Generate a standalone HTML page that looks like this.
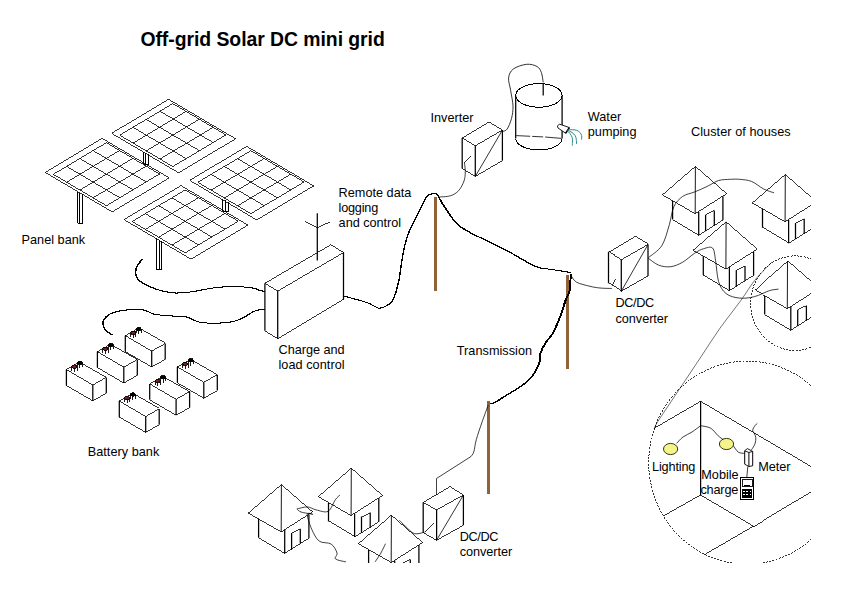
<!DOCTYPE html>
<html lang="en">
<head>
<meta charset="utf-8">
<title>Off-grid Solar DC mini grid</title>
<style>
html,body{margin:0;padding:0;background:#fff;}
body{width:841px;height:595px;overflow:hidden;position:relative;}
#diagram{position:absolute;left:0;top:0;width:811px;height:563px;overflow:hidden;display:block;}
#diagram text{font-family:"Liberation Sans",sans-serif;fill:#000;}
</style>
</head>
<body>
<svg id="diagram" width="811" height="563" viewBox="0 0 811 563" shape-rendering="crispEdges" stroke-linecap="butt" stroke-linejoin="miter">
<path d="M143.5,151.5 L143.5,164.1 M145.5,152.8 L145.5,164.9 M148.5,154.0 L148.5,164.1" stroke="#000" stroke-width="1" fill="none"/>
<path d="M143.5,164.4 L148.5,164.4" stroke="#000" stroke-width="1" fill="none"/>
<path d="M77.5,191.5 L77.5,222.8 M79.5,192.8 L79.5,223.6 M82.5,194.2 L82.5,222.8" stroke="#000" stroke-width="1" fill="none"/>
<path d="M77.5,223.1 L82.5,223.1" stroke="#000" stroke-width="1" fill="none"/>
<path d="M222.5,199.0 L222.5,211.3 M225.5,200.3 L225.5,212.1 M228.5,201.7 L228.5,211.3" stroke="#000" stroke-width="1" fill="none"/>
<path d="M222.5,211.6 L228.5,211.6" stroke="#000" stroke-width="1" fill="none"/>
<path d="M156.5,238.3 L156.5,269.5 M159.5,239.6 L159.5,270.3 M161.5,240.9 L161.5,269.5" stroke="#000" stroke-width="1" fill="none"/>
<path d="M156.5,269.8 L161.5,269.8" stroke="#000" stroke-width="1" fill="none"/>
<path d="M168.6,99.3 L235.6,138.8 M235.6,138.8 L178.6,172.8 M178.6,172.8 L111.6,133.3 M111.6,133.3 L168.6,99.3" stroke="#000" stroke-width="0.8" fill="none"/>
<path d="M172.8,103.6 L225.9,134.9 M225.9,134.9 L172.8,166.6 M172.8,166.6 L119.7,135.2 M119.7,135.2 L172.8,103.6" stroke="#000" stroke-width="0.8" fill="none"/>
<path d="M186.0,111.4 L133.0,143.1" stroke="#000" stroke-width="0.8" fill="none"/>
<path d="M159.5,111.5 L212.6,142.8" stroke="#000" stroke-width="0.8" fill="none"/>
<path d="M199.3,119.2 L146.3,150.9" stroke="#000" stroke-width="0.8" fill="none"/>
<path d="M146.2,119.4 L199.4,150.7" stroke="#000" stroke-width="0.8" fill="none"/>
<path d="M212.6,127.1 L159.5,158.7" stroke="#000" stroke-width="0.8" fill="none"/>
<path d="M133.0,127.3 L186.1,158.6" stroke="#000" stroke-width="0.8" fill="none"/>
<path d="M102.2,138.4 L169.2,177.9 M169.2,177.9 L112.2,211.9 M112.2,211.9 L45.2,172.4 M45.2,172.4 L102.2,138.4" stroke="#000" stroke-width="0.8" fill="none"/>
<path d="M106.4,142.7 L159.5,174.0 M159.5,174.0 L106.4,205.7 M106.4,205.7 L53.3,174.3 M53.3,174.3 L106.4,142.7" stroke="#000" stroke-width="0.8" fill="none"/>
<path d="M119.6,150.5 L66.6,182.2" stroke="#000" stroke-width="0.8" fill="none"/>
<path d="M93.1,150.6 L146.2,181.9" stroke="#000" stroke-width="0.8" fill="none"/>
<path d="M132.9,158.3 L79.9,190.0" stroke="#000" stroke-width="0.8" fill="none"/>
<path d="M79.8,158.5 L133.0,189.8" stroke="#000" stroke-width="0.8" fill="none"/>
<path d="M146.2,166.2 L93.1,197.8" stroke="#000" stroke-width="0.8" fill="none"/>
<path d="M66.6,166.4 L119.7,197.7" stroke="#000" stroke-width="0.8" fill="none"/>
<path d="M246.7,146.4 L313.7,185.9 M313.7,185.9 L256.7,219.9 M256.7,219.9 L189.7,180.4 M189.7,180.4 L246.7,146.4" stroke="#000" stroke-width="0.8" fill="none"/>
<path d="M250.9,150.7 L304.0,182.0 M304.0,182.0 L250.9,213.7 M250.9,213.7 L197.8,182.3 M197.8,182.3 L250.9,150.7" stroke="#000" stroke-width="0.8" fill="none"/>
<path d="M264.1,158.5 L211.1,190.2" stroke="#000" stroke-width="0.8" fill="none"/>
<path d="M237.6,158.6 L290.7,189.9" stroke="#000" stroke-width="0.8" fill="none"/>
<path d="M277.4,166.3 L224.4,198.0" stroke="#000" stroke-width="0.8" fill="none"/>
<path d="M224.3,166.5 L277.5,197.8" stroke="#000" stroke-width="0.8" fill="none"/>
<path d="M290.7,174.2 L237.6,205.8" stroke="#000" stroke-width="0.8" fill="none"/>
<path d="M211.1,174.4 L264.2,205.7" stroke="#000" stroke-width="0.8" fill="none"/>
<path d="M181.0,185.6 L248.0,225.1 M248.0,225.1 L191.0,259.1 M191.0,259.1 L124.0,219.6 M124.0,219.6 L181.0,185.6" stroke="#000" stroke-width="0.8" fill="none"/>
<path d="M185.2,189.9 L238.3,221.2 M238.3,221.2 L185.2,252.9 M185.2,252.9 L132.1,221.5 M132.1,221.5 L185.2,189.9" stroke="#000" stroke-width="0.8" fill="none"/>
<path d="M198.4,197.7 L145.4,229.4" stroke="#000" stroke-width="0.8" fill="none"/>
<path d="M171.9,197.8 L225.0,229.1" stroke="#000" stroke-width="0.8" fill="none"/>
<path d="M211.7,205.5 L158.7,237.2" stroke="#000" stroke-width="0.8" fill="none"/>
<path d="M158.6,205.7 L211.8,237.0" stroke="#000" stroke-width="0.8" fill="none"/>
<path d="M225.0,213.4 L171.9,245.0" stroke="#000" stroke-width="0.8" fill="none"/>
<path d="M145.4,213.6 L198.5,244.9" stroke="#000" stroke-width="0.8" fill="none"/>
<path d="M435.5,197.0 L435.5,290.6" stroke="#8f6238" stroke-width="3" fill="none" />
<path d="M567.6,275.0 L567.6,368.8" stroke="#8f6238" stroke-width="3" fill="none" />
<path d="M488.5,401.0 L488.5,493.6" stroke="#8f6238" stroke-width="3" fill="none" />
<path d="M142.2,258.9 C141.3,260.1 137.9,263.7 136.8,266.2 C135.6,268.7 135.0,271.4 135.3,273.8 C135.6,276.2 136.5,278.3 138.7,280.4 C140.8,282.4 144.4,284.4 148.2,286.1 C152.0,287.9 157.2,289.8 161.6,290.9 C166.0,292.0 170.5,292.8 174.9,293.0 C179.3,293.2 183.8,292.7 188.2,292.2 C192.6,291.7 197.1,290.8 201.5,290.0 C205.9,289.2 210.0,288.2 214.8,287.7 C219.6,287.1 225.0,286.8 230.1,286.7 C235.2,286.6 241.2,286.8 245.3,287.1 C249.4,287.4 252.4,288.0 254.8,288.6 C257.2,289.2 257.9,290.1 259.5,290.5 C261.1,290.9 263.5,291.2 264.3,291.3" stroke="#000" stroke-width="1.0" fill="none" />
<path d="M142.8,258.9 C141.9,260.1 138.6,263.7 137.4,266.2 C136.2,268.7 135.6,271.4 135.9,273.8 C136.2,276.2 137.2,278.3 139.3,280.4 C141.5,282.4 145.0,284.4 148.8,286.1 C152.6,287.9 157.8,289.8 162.2,290.9 C166.7,292.0 171.1,292.8 175.5,293.0 C179.9,293.2 184.4,292.7 188.8,292.2 C193.2,291.7 197.7,290.8 202.1,290.0 C206.5,289.2 210.6,288.2 215.4,287.7 C220.2,287.1 225.6,286.8 230.7,286.7 C235.8,286.6 241.8,286.8 245.9,287.1 C250.0,287.4 253.0,288.0 255.4,288.6 C257.8,289.2 258.5,290.1 260.1,290.5 C261.7,290.9 264.1,291.2 264.9,291.3" stroke="#000" stroke-width="1.0" fill="none" />
<path d="M264.3,309.4 C263.0,309.5 258.9,309.7 256.7,310.3 C254.5,310.9 253.2,311.6 251.0,312.8 C248.8,314.0 246.2,316.1 243.4,317.5 C240.5,318.9 237.4,320.4 233.9,321.3 C230.4,322.2 226.2,322.6 222.4,322.9 C218.6,323.2 214.8,323.3 211.0,323.2 C207.2,323.1 202.8,322.9 199.6,322.3 C196.4,321.7 194.2,320.3 192.0,319.4 C189.8,318.5 189.1,317.5 186.3,317.0 C183.4,316.5 178.7,316.5 174.9,316.2 C171.1,315.9 167.0,315.6 163.5,315.3 C160.0,315.0 156.4,314.9 153.9,314.3 C151.3,313.7 150.1,312.5 148.2,311.8 C146.3,311.1 145.3,310.3 142.5,309.9 C139.7,309.5 134.9,309.4 131.1,309.6 C127.3,309.8 123.3,310.2 119.7,310.9 C116.1,311.6 112.4,312.6 109.7,314.0 C107.0,315.4 104.8,317.7 103.7,319.5 C102.6,321.3 102.7,323.2 102.9,325.0 C103.2,326.8 103.7,328.3 105.2,330.0 C106.7,331.7 110.7,334.2 111.8,335.0" stroke="#000" stroke-width="1.0" fill="none" />
<path d="M264.9,309.4 C263.6,309.5 259.5,309.7 257.3,310.3 C255.1,310.9 253.8,311.6 251.6,312.8 C249.4,314.0 246.8,316.1 244.0,317.5 C241.2,318.9 238.0,320.4 234.5,321.3 C231.0,322.2 226.8,322.6 223.0,322.9 C219.2,323.2 215.4,323.3 211.6,323.2 C207.8,323.1 203.4,322.9 200.2,322.3 C197.0,321.7 194.8,320.3 192.6,319.4 C190.4,318.5 189.8,317.5 186.9,317.0 C184.1,316.5 179.3,316.5 175.5,316.2 C171.7,315.9 167.6,315.6 164.1,315.3 C160.6,315.0 157.1,314.9 154.5,314.3 C151.9,313.7 150.7,312.5 148.8,311.8 C146.9,311.1 146.0,310.3 143.1,309.9 C140.3,309.5 135.5,309.4 131.7,309.6 C127.9,309.8 123.9,310.2 120.3,310.9 C116.7,311.6 113.0,312.6 110.3,314.0 C107.6,315.4 105.4,317.7 104.3,319.5 C103.2,321.3 103.2,323.2 103.5,325.0 C103.8,326.8 104.3,328.3 105.8,330.0 C107.3,331.7 111.3,334.2 112.4,335.0" stroke="#000" stroke-width="1.0" fill="none" />
<path d="M343.3,295.9 C347.1,297.0 360.9,300.6 366.1,302.4 C371.4,304.2 372.5,305.5 374.8,306.5 C377.1,307.5 377.4,308.6 379.8,308.2 C382.2,307.8 386.9,305.8 389.3,303.9 C391.7,302.0 392.5,300.8 394.1,296.8 C395.7,292.8 397.6,285.7 398.8,280.1 C400.0,274.6 400.2,269.4 401.2,263.5 C402.2,257.6 403.4,250.1 404.8,244.5 C406.2,238.9 407.3,235.4 409.5,230.2 C411.7,225.0 414.8,219.2 417.8,213.5 C420.8,207.8 424.2,198.9 427.4,195.7 C430.6,192.4 435.3,194.3 436.9,194.0" stroke="#000" stroke-width="1.0" fill="none" />
<path d="M343.7,295.9 C347.5,297.0 361.2,300.6 366.5,302.4 C371.8,304.2 372.9,305.5 375.2,306.5 C377.5,307.5 377.8,308.6 380.2,308.2 C382.6,307.8 387.3,305.8 389.7,303.9 C392.1,302.0 392.9,300.8 394.5,296.8 C396.1,292.8 398.0,285.7 399.2,280.1 C400.4,274.6 400.6,269.4 401.6,263.5 C402.6,257.6 403.8,250.1 405.2,244.5 C406.6,238.9 407.7,235.4 409.9,230.2 C412.1,225.0 415.2,219.2 418.2,213.5 C421.2,207.8 424.6,198.9 427.8,195.7 C431.0,192.4 435.7,194.3 437.3,194.0" stroke="#000" stroke-width="1.0" fill="none" />
<path d="M436.8,194.0 C437.9,196.1 440.7,201.6 443.8,206.4 C447.0,211.2 451.8,218.8 455.8,223.0 C459.7,227.2 462.5,228.4 467.6,231.4 C472.8,234.4 479.5,237.3 486.6,240.9 C493.8,244.5 503.7,249.2 510.4,252.8 C517.2,256.4 522.3,259.8 527.0,262.3 C531.8,264.8 535.0,266.6 538.9,267.8 C542.9,269.0 545.7,268.6 550.9,269.4 C556.0,270.2 566.7,272.0 569.9,272.5" stroke="#000" stroke-width="1.0" fill="none" />
<path d="M437.5,194.0 C438.6,196.1 441.4,201.6 444.6,206.4 C447.7,211.2 452.5,218.8 456.5,223.0 C460.4,227.2 463.2,228.4 468.4,231.4 C473.5,234.4 480.2,237.3 487.4,240.9 C494.5,244.5 504.4,249.2 511.2,252.8 C517.9,256.4 523.0,259.8 527.8,262.3 C532.5,264.8 535.7,266.6 539.6,267.8 C543.6,269.0 546.4,268.6 551.6,269.4 C556.7,270.2 567.4,272.0 570.6,272.5" stroke="#000" stroke-width="1.0" fill="none" />
<path d="M570.2,273.5 C570.2,274.9 570.1,279.2 569.9,282.0 C569.8,284.8 570.2,287.1 569.4,290.2 C568.6,293.2 566.7,296.1 565.1,300.3 C563.6,304.5 562.2,309.9 560.1,315.4 C558.0,320.8 555.1,328.4 552.5,333.0 C550.0,337.6 547.1,339.7 545.0,343.1 C543.0,346.5 541.1,349.9 540.0,353.2 C539.0,356.5 539.8,359.8 538.8,363.2 C537.7,366.6 535.6,370.4 533.8,373.3 C531.9,376.2 530.2,378.4 527.4,380.9 C524.7,383.4 521.1,385.9 517.3,388.4 C513.6,390.9 508.5,393.7 504.8,396.0 C501.0,398.3 497.2,401.0 494.7,402.3 C492.1,403.6 490.5,403.6 489.7,403.8" stroke="#000" stroke-width="1.0" fill="none" />
<path d="M571.2,273.5 C571.1,274.9 571.0,279.2 570.9,282.0 C570.7,284.8 571.1,287.1 570.4,290.2 C569.6,293.2 567.6,296.1 566.1,300.3 C564.5,304.5 563.2,309.9 561.1,315.4 C559.0,320.8 556.0,328.4 553.5,333.0 C550.9,337.6 548.0,339.7 546.0,343.1 C543.9,346.5 542.0,349.9 541.0,353.2 C539.9,356.5 540.7,359.8 539.7,363.2 C538.6,366.6 536.5,370.4 534.7,373.3 C532.8,376.2 531.1,378.4 528.4,380.9 C525.6,383.4 522.0,385.9 518.2,388.4 C514.5,390.9 509.4,393.7 505.6,396.0 C501.9,398.3 498.1,401.0 495.6,402.3 C493.0,403.6 491.4,403.6 490.6,403.8" stroke="#000" stroke-width="1.0" fill="none" />
<path d="M264.9,283.3 L330.9,244.7 M330.9,244.7 L343.5,252.6 M343.5,252.6 L277.7,291.1 M277.7,291.1 L264.9,283.3" stroke="#000" stroke-width="0.8" fill="none"/>
<path d="M343.5,299.4 L277.7,338.7" stroke="#000" stroke-width="0.8" fill="none"/>
<path d="M343.5,252.6 L343.5,299.4 M277.7,338.7 L277.7,291.1" stroke="#000" stroke-width="1.25" fill="none" shape-rendering="geometricPrecision"/>
<path d="M264.9,330.8 L277.7,338.7" stroke="#000" stroke-width="0.8" fill="none"/>
<path d="M264.9,283.3 L264.9,330.8" stroke="#000" stroke-width="1.25" fill="none" shape-rendering="geometricPrecision"/>
<path d="M317.3,213.3 L317.3,260.5" stroke="#000" stroke-width="1.25" fill="none" shape-rendering="geometricPrecision"/>
<path d="M304.7,221.1 L317.3,227.7 M317.3,227.7 L330.4,221.7" stroke="#000" stroke-width="0.8" fill="none"/>
<path d="M125.3,335.7 L138.5,328.2 M138.5,328.2 L165.2,343.5 M165.2,343.5 L151.7,351.1 M151.7,351.1 L125.3,335.7" stroke="#000" stroke-width="0.8" fill="none"/>
<path d="M125.3,351.6 L151.7,367.0 M151.7,367.0 L165.2,359.4" stroke="#000" stroke-width="0.8" fill="none"/>
<path d="M125.3,335.7 L125.3,351.6 M165.2,359.4 L165.2,343.5" stroke="#000" stroke-width="1.25" fill="none" shape-rendering="geometricPrecision"/>
<path d="M151.7,351.1 L151.7,367.0" stroke="#000" stroke-width="1.25" fill="none" shape-rendering="geometricPrecision"/>
<ellipse cx="133.3" cy="332.7" rx="2.6" ry="1.7" fill="#7a1a22" stroke="#000" stroke-width="0.9"/>
<path d="M130.7,332.7 v4 M135.9,332.7 v4 M133.3,333.9 v4" stroke="#000" stroke-width="0.9" fill="none"/>
<ellipse cx="138.7" cy="329.1" rx="2.6" ry="1.7" fill="#000" stroke="#000" stroke-width="0.9"/>
<path d="M136.1,329.1 v4 M141.3,329.1 v4 M138.7,330.3 v4" stroke="#000" stroke-width="0.9" fill="none"/>
<path d="M97.4,351.7 L110.6,344.2 M110.6,344.2 L137.3,359.5 M137.3,359.5 L123.8,367.1 M123.8,367.1 L97.4,351.7" stroke="#000" stroke-width="0.8" fill="none"/>
<path d="M97.4,367.6 L123.8,383.0 M123.8,383.0 L137.3,375.4" stroke="#000" stroke-width="0.8" fill="none"/>
<path d="M97.4,351.7 L97.4,367.6 M137.3,375.4 L137.3,359.5" stroke="#000" stroke-width="1.25" fill="none" shape-rendering="geometricPrecision"/>
<path d="M123.8,367.1 L123.8,383.0" stroke="#000" stroke-width="1.25" fill="none" shape-rendering="geometricPrecision"/>
<ellipse cx="105.4" cy="348.7" rx="2.6" ry="1.7" fill="#7a1a22" stroke="#000" stroke-width="0.9"/>
<path d="M102.8,348.7 v4 M108.0,348.7 v4 M105.4,349.9 v4" stroke="#000" stroke-width="0.9" fill="none"/>
<ellipse cx="110.8" cy="345.1" rx="2.6" ry="1.7" fill="#000" stroke="#000" stroke-width="0.9"/>
<path d="M108.2,345.1 v4 M113.4,345.1 v4 M110.8,346.3 v4" stroke="#000" stroke-width="0.9" fill="none"/>
<path d="M66.4,369.6 L79.6,362.1 M79.6,362.1 L106.3,377.4 M106.3,377.4 L92.8,385.0 M92.8,385.0 L66.4,369.6" stroke="#000" stroke-width="0.8" fill="none"/>
<path d="M66.4,385.5 L92.8,400.9 M92.8,400.9 L106.3,393.3" stroke="#000" stroke-width="0.8" fill="none"/>
<path d="M66.4,369.6 L66.4,385.5 M106.3,393.3 L106.3,377.4" stroke="#000" stroke-width="1.25" fill="none" shape-rendering="geometricPrecision"/>
<path d="M92.8,385.0 L92.8,400.9" stroke="#000" stroke-width="1.25" fill="none" shape-rendering="geometricPrecision"/>
<ellipse cx="74.4" cy="366.6" rx="2.6" ry="1.7" fill="#7a1a22" stroke="#000" stroke-width="0.9"/>
<path d="M71.8,366.6 v4 M77.0,366.6 v4 M74.4,367.8 v4" stroke="#000" stroke-width="0.9" fill="none"/>
<ellipse cx="79.8" cy="363.0" rx="2.6" ry="1.7" fill="#000" stroke="#000" stroke-width="0.9"/>
<path d="M77.2,363.0 v4 M82.4,363.0 v4 M79.8,364.2 v4" stroke="#000" stroke-width="0.9" fill="none"/>
<path d="M177.4,366.9 L190.6,359.4 M190.6,359.4 L217.3,374.7 M217.3,374.7 L203.8,382.3 M203.8,382.3 L177.4,366.9" stroke="#000" stroke-width="0.8" fill="none"/>
<path d="M177.4,382.8 L203.8,398.2 M203.8,398.2 L217.3,390.6" stroke="#000" stroke-width="0.8" fill="none"/>
<path d="M177.4,366.9 L177.4,382.8 M217.3,390.6 L217.3,374.7" stroke="#000" stroke-width="1.25" fill="none" shape-rendering="geometricPrecision"/>
<path d="M203.8,382.3 L203.8,398.2" stroke="#000" stroke-width="1.25" fill="none" shape-rendering="geometricPrecision"/>
<ellipse cx="185.4" cy="363.9" rx="2.6" ry="1.7" fill="#7a1a22" stroke="#000" stroke-width="0.9"/>
<path d="M182.8,363.9 v4 M188.0,363.9 v4 M185.4,365.1 v4" stroke="#000" stroke-width="0.9" fill="none"/>
<ellipse cx="190.8" cy="360.3" rx="2.6" ry="1.7" fill="#000" stroke="#000" stroke-width="0.9"/>
<path d="M188.2,360.3 v4 M193.4,360.3 v4 M190.8,361.5 v4" stroke="#000" stroke-width="0.9" fill="none"/>
<path d="M149.7,383.9 L162.9,376.4 M162.9,376.4 L189.6,391.7 M189.6,391.7 L176.1,399.3 M176.1,399.3 L149.7,383.9" stroke="#000" stroke-width="0.8" fill="none"/>
<path d="M149.7,399.8 L176.1,415.2 M176.1,415.2 L189.6,407.6" stroke="#000" stroke-width="0.8" fill="none"/>
<path d="M149.7,383.9 L149.7,399.8 M189.6,407.6 L189.6,391.7" stroke="#000" stroke-width="1.25" fill="none" shape-rendering="geometricPrecision"/>
<path d="M176.1,399.3 L176.1,415.2" stroke="#000" stroke-width="1.25" fill="none" shape-rendering="geometricPrecision"/>
<ellipse cx="157.7" cy="380.9" rx="2.6" ry="1.7" fill="#7a1a22" stroke="#000" stroke-width="0.9"/>
<path d="M155.1,380.9 v4 M160.3,380.9 v4 M157.7,382.1 v4" stroke="#000" stroke-width="0.9" fill="none"/>
<ellipse cx="163.1" cy="377.3" rx="2.6" ry="1.7" fill="#000" stroke="#000" stroke-width="0.9"/>
<path d="M160.5,377.3 v4 M165.7,377.3 v4 M163.1,378.5 v4" stroke="#000" stroke-width="0.9" fill="none"/>
<path d="M119.3,401.1 L132.5,393.6 M132.5,393.6 L159.2,408.9 M159.2,408.9 L145.7,416.5 M145.7,416.5 L119.3,401.1" stroke="#000" stroke-width="0.8" fill="none"/>
<path d="M119.3,417.0 L145.7,432.4 M145.7,432.4 L159.2,424.8" stroke="#000" stroke-width="0.8" fill="none"/>
<path d="M119.3,401.1 L119.3,417.0 M159.2,424.8 L159.2,408.9" stroke="#000" stroke-width="1.25" fill="none" shape-rendering="geometricPrecision"/>
<path d="M145.7,416.5 L145.7,432.4" stroke="#000" stroke-width="1.25" fill="none" shape-rendering="geometricPrecision"/>
<ellipse cx="127.3" cy="398.1" rx="2.6" ry="1.7" fill="#7a1a22" stroke="#000" stroke-width="0.9"/>
<path d="M124.7,398.1 v4 M129.9,398.1 v4 M127.3,399.3 v4" stroke="#000" stroke-width="0.9" fill="none"/>
<ellipse cx="132.7" cy="394.5" rx="2.6" ry="1.7" fill="#000" stroke="#000" stroke-width="0.9"/>
<path d="M130.1,394.5 v4 M135.3,394.5 v4 M132.7,395.7 v4" stroke="#000" stroke-width="0.9" fill="none"/>
<path d="M462.2,138.0 L489.0,122.1 M489.0,122.1 L502.4,130.1 M502.4,130.1 L475.3,145.8 M475.3,145.8 L462.2,138.0" stroke="#000" stroke-width="0.8" fill="none"/>
<path d="M462.2,168.6 L475.3,176.4 M475.3,176.4 L502.4,160.7" stroke="#000" stroke-width="0.8" fill="none"/>
<path d="M462.2,138.0 L462.2,168.6 M502.4,160.7 L502.4,130.1" stroke="#000" stroke-width="1.25" fill="none" shape-rendering="geometricPrecision"/>
<path d="M475.3,145.8 L475.3,176.4" stroke="#000" stroke-width="1.25" fill="none" shape-rendering="geometricPrecision"/>
<path d="M502.4,130.1 L475.3,176.4" stroke="#000" stroke-width="0.8" fill="none" shape-rendering="geometricPrecision"/>
<path d="M464.5,163.0 L470.4,156.3" stroke="#000" stroke-width="0.8" fill="none"/>
<path d="M608.5,251.8 L634.5,236.4 M634.5,236.4 L648.0,244.5 M648.0,244.5 L621.3,259.7 M621.3,259.7 L608.5,251.8" stroke="#000" stroke-width="0.8" fill="none"/>
<path d="M608.5,283.3 L621.3,291.2 M621.3,291.2 L648.0,276.0" stroke="#000" stroke-width="0.8" fill="none"/>
<path d="M608.5,251.8 L608.5,283.3 M648.0,276.0 L648.0,244.5" stroke="#000" stroke-width="1.25" fill="none" shape-rendering="geometricPrecision"/>
<path d="M621.3,259.7 L621.3,291.2" stroke="#000" stroke-width="1.25" fill="none" shape-rendering="geometricPrecision"/>
<path d="M648.0,244.5 L621.3,291.2" stroke="#000" stroke-width="0.8" fill="none" shape-rendering="geometricPrecision"/>
<path d="M612.7,284.8 L615.4,279.2" stroke="#000" stroke-width="0.8" fill="none"/>
<path d="M423.2,502.4 L450.0,486.7 M450.0,486.7 L463.4,495.0 M463.4,495.0 L436.6,509.9 M436.6,509.9 L423.2,502.4" stroke="#000" stroke-width="0.8" fill="none"/>
<path d="M423.2,532.7 L436.6,540.2 M436.6,540.2 L463.4,525.3" stroke="#000" stroke-width="0.8" fill="none"/>
<path d="M423.2,502.4 L423.2,532.7 M463.4,525.3 L463.4,495.0" stroke="#000" stroke-width="1.25" fill="none" shape-rendering="geometricPrecision"/>
<path d="M436.6,509.9 L436.6,540.2" stroke="#000" stroke-width="1.25" fill="none" shape-rendering="geometricPrecision"/>
<path d="M463.4,495.0 L436.6,540.2" stroke="#000" stroke-width="0.8" fill="none" shape-rendering="geometricPrecision"/>
<path d="M424.7,532.2 L433.6,523.2" stroke="#000" stroke-width="0.8" fill="none"/>
<ellipse cx="538.9" cy="95.4" rx="23.2" ry="11.8" fill="none" stroke="#000" stroke-width="1"/>
<path d="M515.7,95.4 L515.7,138.6" stroke="#000" stroke-width="1.25" fill="none" shape-rendering="geometricPrecision"/>
<path d="M562.1,95.4 L562.1,138.6" stroke="#000" stroke-width="1.25" fill="none" shape-rendering="geometricPrecision"/>
<path d="M515.7,138.6 A23.2,11.3 0 0 0 562.1,138.6" stroke="#000" stroke-width="1" fill="none" />
<path d="M516.2,135.6 L545.0,137.0 L561.6,138.4" stroke="#000" stroke-width="0.8" fill="none" stroke-dasharray="14 2 11 2 40" shape-rendering="geometricPrecision"/>
<path d="M543.2,83.0 L543.2,95.6" stroke="#000" stroke-width="1.25" fill="none" shape-rendering="geometricPrecision"/>
<path d="M502.4,131.5 C503.2,131.1 505.6,131.3 507.1,129.1 C508.6,126.9 510.5,122.3 511.5,118.5 C512.5,114.7 513.1,110.8 513.0,106.1 C512.9,101.4 511.3,95.0 510.6,90.3 C509.9,85.6 508.2,81.4 508.6,77.9 C509.0,74.4 510.2,71.4 513.2,69.1 C516.2,66.8 522.5,64.7 526.5,64.3 C530.5,63.9 534.5,65.1 537.0,66.5 C539.5,67.9 540.4,70.0 541.4,72.6 C542.4,75.2 542.9,80.7 543.2,82.3" stroke="#000" stroke-width="0.8" fill="none" shape-rendering="geometricPrecision"/>
<path d="M559.4,124.1 L569.4,127.6 L565.6,133.2 L557.9,127.9 Q556.4,126 559.4,124.1 Z" fill="#fff" stroke="#000" stroke-width="0.9" shape-rendering="geometricPrecision"/>
<path d="M569.3,127.6 L565.6,133.4" stroke="#000" stroke-width="1.5" fill="none" shape-rendering="geometricPrecision"/>
<path d="M567.3,130.6 C567.8,131.1 569.2,132.4 570.0,133.5 C570.8,134.6 571.8,136.2 572.2,137.4 C572.6,138.7 572.4,139.6 572.4,141.0 C572.4,142.4 572.4,144.8 572.4,145.6" stroke="#2a8a8a" stroke-width="1.0" fill="none" shape-rendering="geometricPrecision"/>
<path d="M567.8,130.2 C568.5,130.6 570.8,131.6 572.0,132.5 C573.2,133.4 574.6,134.6 575.3,135.8 C576.0,137.0 576.1,138.2 576.3,139.5 C576.5,140.8 576.5,143.1 576.5,143.8" stroke="#2a8a8a" stroke-width="1.0" fill="none" shape-rendering="geometricPrecision"/>
<path d="M568.3,129.8 C569.2,129.8 572.4,129.6 574.0,129.8 C575.6,130.0 577.0,130.3 578.2,131.0 C579.4,131.7 580.4,133.0 581.0,134.0 C581.6,135.0 581.7,136.1 581.8,137.0 C581.9,137.9 581.5,139.2 581.5,139.7" stroke="#2a8a8a" stroke-width="1.0" fill="none" shape-rendering="geometricPrecision"/>
<path d="M695.4,166.4 L662.4,194.9 M662.4,194.9 L695.2,213.7 M695.2,213.7 L726.6,193.7 M726.6,193.7 L695.4,166.4" stroke="#000" stroke-width="0.8" fill="none"/>
<path d="M695.4,166.4 L695.2,213.7" stroke="#000" stroke-width="0.9" fill="none" shape-rendering="geometricPrecision"/>
<path d="M672.6,219.6 L698.7,235.2 M698.7,235.2 L722.9,220.0" stroke="#000" stroke-width="0.8" fill="none"/>
<path d="M672.6,200.9 L672.6,219.6 M722.9,220.0 L722.9,196.2" stroke="#000" stroke-width="1.25" fill="none" shape-rendering="geometricPrecision"/>
<path d="M698.7,211.7 L698.7,235.2" stroke="#000" stroke-width="1.25" fill="none" shape-rendering="geometricPrecision"/>
<path d="M705.6,214.8 L714.3,210.6" stroke="#000" stroke-width="0.8" fill="none"/>
<path d="M705.6,231.2 L705.6,214.8 M714.3,210.6 L714.3,225.6" stroke="#000" stroke-width="1.25" fill="none" shape-rendering="geometricPrecision"/>
<path d="M785.3,174.5 L752.3,203.0 M752.3,203.0 L785.1,221.8 M785.1,221.8 L816.5,201.8 M816.5,201.8 L785.3,174.5" stroke="#000" stroke-width="0.8" fill="none"/>
<path d="M785.3,174.5 L785.1,221.8" stroke="#000" stroke-width="0.9" fill="none" shape-rendering="geometricPrecision"/>
<path d="M762.5,227.7 L788.6,243.3 M788.6,243.3 L812.8,228.1" stroke="#000" stroke-width="0.8" fill="none"/>
<path d="M762.5,209.0 L762.5,227.7 M812.8,228.1 L812.8,204.3" stroke="#000" stroke-width="1.25" fill="none" shape-rendering="geometricPrecision"/>
<path d="M788.6,219.8 L788.6,243.3" stroke="#000" stroke-width="1.25" fill="none" shape-rendering="geometricPrecision"/>
<path d="M795.5,222.9 L804.2,218.7" stroke="#000" stroke-width="0.8" fill="none"/>
<path d="M795.5,239.3 L795.5,222.9 M804.2,218.7 L804.2,233.7" stroke="#000" stroke-width="1.25" fill="none" shape-rendering="geometricPrecision"/>
<path d="M726.1,221.8 L693.1,250.3 M693.1,250.3 L725.9,269.1 M725.9,269.1 L757.3,249.1 M757.3,249.1 L726.1,221.8" stroke="#000" stroke-width="0.8" fill="none"/>
<path d="M726.1,221.8 L725.9,269.1" stroke="#000" stroke-width="0.9" fill="none" shape-rendering="geometricPrecision"/>
<path d="M703.3,275.0 L729.4,290.6 M729.4,290.6 L753.6,275.4" stroke="#000" stroke-width="0.8" fill="none"/>
<path d="M703.3,256.3 L703.3,275.0 M753.6,275.4 L753.6,251.6" stroke="#000" stroke-width="1.25" fill="none" shape-rendering="geometricPrecision"/>
<path d="M729.4,267.1 L729.4,290.6" stroke="#000" stroke-width="1.25" fill="none" shape-rendering="geometricPrecision"/>
<path d="M736.3,270.2 L745.0,266.0" stroke="#000" stroke-width="0.8" fill="none"/>
<path d="M736.3,286.6 L736.3,270.2 M745.0,266.0 L745.0,281.0" stroke="#000" stroke-width="1.25" fill="none" shape-rendering="geometricPrecision"/>
<path d="M787.5,261.4 L754.5,289.9 M754.5,289.9 L787.3,308.7 M787.3,308.7 L818.7,288.7 M818.7,288.7 L787.5,261.4" stroke="#000" stroke-width="0.8" fill="none"/>
<path d="M787.5,261.4 L787.3,308.7" stroke="#000" stroke-width="0.9" fill="none" shape-rendering="geometricPrecision"/>
<path d="M764.7,314.6 L790.8,330.2 M790.8,330.2 L815.0,315.0" stroke="#000" stroke-width="0.8" fill="none"/>
<path d="M764.7,295.9 L764.7,314.6 M815.0,315.0 L815.0,291.2" stroke="#000" stroke-width="1.25" fill="none" shape-rendering="geometricPrecision"/>
<path d="M790.8,306.7 L790.8,330.2" stroke="#000" stroke-width="1.25" fill="none" shape-rendering="geometricPrecision"/>
<path d="M797.7,309.8 L806.4,305.6" stroke="#000" stroke-width="0.8" fill="none"/>
<path d="M797.7,326.2 L797.7,309.8 M806.4,305.6 L806.4,320.6" stroke="#000" stroke-width="1.25" fill="none" shape-rendering="geometricPrecision"/>
<path d="M281.4,484.6 L248.4,513.1 M248.4,513.1 L281.2,531.9 M281.2,531.9 L312.6,511.9 M312.6,511.9 L281.4,484.6" stroke="#000" stroke-width="0.8" fill="none"/>
<path d="M281.4,484.6 L281.2,531.9" stroke="#000" stroke-width="0.9" fill="none" shape-rendering="geometricPrecision"/>
<path d="M258.6,537.8 L284.7,553.4 M284.7,553.4 L308.9,538.2" stroke="#000" stroke-width="0.8" fill="none"/>
<path d="M258.6,519.1 L258.6,537.8 M308.9,538.2 L308.9,514.4" stroke="#000" stroke-width="1.25" fill="none" shape-rendering="geometricPrecision"/>
<path d="M284.7,529.9 L284.7,553.4" stroke="#000" stroke-width="1.25" fill="none" shape-rendering="geometricPrecision"/>
<path d="M291.6,533.0 L300.3,528.8" stroke="#000" stroke-width="0.8" fill="none"/>
<path d="M291.6,549.4 L291.6,533.0 M300.3,528.8 L300.3,543.8" stroke="#000" stroke-width="1.25" fill="none" shape-rendering="geometricPrecision"/>
<path d="M351.3,468.2 L318.3,496.7 M318.3,496.7 L351.1,515.5 M351.1,515.5 L382.5,495.5 M382.5,495.5 L351.3,468.2" stroke="#000" stroke-width="0.8" fill="none"/>
<path d="M351.3,468.2 L351.1,515.5" stroke="#000" stroke-width="0.9" fill="none" shape-rendering="geometricPrecision"/>
<path d="M328.5,521.4 L354.6,537.0 M354.6,537.0 L378.8,521.8" stroke="#000" stroke-width="0.8" fill="none"/>
<path d="M328.5,502.7 L328.5,521.4 M378.8,521.8 L378.8,498.0" stroke="#000" stroke-width="1.25" fill="none" shape-rendering="geometricPrecision"/>
<path d="M354.6,513.5 L354.6,537.0" stroke="#000" stroke-width="1.25" fill="none" shape-rendering="geometricPrecision"/>
<path d="M361.5,516.6 L370.2,512.4" stroke="#000" stroke-width="0.8" fill="none"/>
<path d="M361.5,533.0 L361.5,516.6 M370.2,512.4 L370.2,527.4" stroke="#000" stroke-width="1.25" fill="none" shape-rendering="geometricPrecision"/>
<path d="M391.4,515.2 L358.4,543.7 M358.4,543.7 L391.2,562.5 M391.2,562.5 L422.6,542.5 M422.6,542.5 L391.4,515.2" stroke="#000" stroke-width="0.8" fill="none"/>
<path d="M391.4,515.2 L391.2,562.5" stroke="#000" stroke-width="0.9" fill="none" shape-rendering="geometricPrecision"/>
<path d="M368.6,568.4 L394.7,584.0 M394.7,584.0 L418.9,568.8" stroke="#000" stroke-width="0.8" fill="none"/>
<path d="M368.6,549.7 L368.6,568.4 M418.9,568.8 L418.9,545.0" stroke="#000" stroke-width="1.25" fill="none" shape-rendering="geometricPrecision"/>
<path d="M394.7,560.5 L394.7,584.0" stroke="#000" stroke-width="1.25" fill="none" shape-rendering="geometricPrecision"/>
<path d="M401.6,563.6 L410.3,559.4" stroke="#000" stroke-width="0.8" fill="none"/>
<path d="M401.6,580.0 L401.6,563.6 M410.3,559.4 L410.3,574.4" stroke="#000" stroke-width="1.25" fill="none" shape-rendering="geometricPrecision"/>
<path d="M438.5,197.0 C440.4,196.8 446.8,196.9 450.2,195.8 C453.6,194.8 456.3,193.2 458.6,190.7 C460.9,188.2 462.9,184.1 464.0,181.0 C465.1,177.9 465.2,175.0 465.3,172.0 C465.4,169.0 464.6,164.5 464.5,163.0" stroke="#000" stroke-width="0.75" fill="none" shape-rendering="geometricPrecision"/>
<path d="M570.5,274.7 C571.5,275.9 573.1,280.2 576.4,282.1 C579.6,284.0 586.1,285.3 590.0,286.3 C593.9,287.3 596.4,287.6 600.0,288.0 C603.6,288.4 609.8,288.4 611.8,288.5" stroke="#000" stroke-width="0.75" fill="none" shape-rendering="geometricPrecision"/>
<path d="M488.2,405.2 C487.2,407.9 484.2,416.0 482.2,421.7 C480.2,427.4 477.7,434.6 476.3,439.6 C474.9,444.6 474.7,449.1 473.8,451.9 C472.9,454.7 471.5,455.7 471.0,456.5" stroke="#000" stroke-width="0.75" fill="none" shape-rendering="geometricPrecision"/>
<path d="M471.0,456.5 L436.5,478.5 L436.5,495.0" stroke="#000" stroke-width="0.75" fill="none" shape-rendering="geometricPrecision"/>
<path d="M648.3,257.7 C650.5,255.7 658.3,251.2 661.8,245.7 C665.3,240.2 667.3,231.3 669.3,224.8 C671.3,218.3 671.6,211.5 673.8,206.8 C676.0,202.1 679.2,198.9 682.7,196.4 C686.2,193.9 690.5,193.7 694.7,191.9 C699.0,190.2 704.2,187.8 708.2,185.9 C712.2,184.0 714.9,181.6 718.6,180.5 C722.3,179.4 727.1,179.5 730.6,179.3 C734.1,179.1 736.1,179.0 739.6,179.3 C743.1,179.7 747.5,179.8 751.5,181.4 C755.5,183.0 759.8,187.0 763.5,188.9 C767.2,190.8 772.2,192.2 774.0,192.8" stroke="#000" stroke-width="0.75" fill="none" shape-rendering="geometricPrecision"/>
<path d="M648.3,258.3 C650.0,259.4 655.0,263.8 658.8,265.2 C662.5,266.6 666.8,267.2 670.8,266.7 C674.8,266.2 678.7,264.4 682.7,262.2 C686.7,259.9 691.2,255.4 694.7,253.2 C698.2,250.9 700.7,249.5 703.7,248.7 C706.7,247.8 710.6,246.1 712.6,248.1 C714.6,250.1 714.6,255.1 715.6,260.7 C716.6,266.3 716.9,276.1 718.6,281.6 C720.4,287.1 722.6,290.9 726.1,293.6 C729.6,296.4 734.9,297.6 739.6,298.1 C744.3,298.6 749.5,297.9 754.5,296.6 C759.5,295.4 765.5,291.9 769.5,290.6 C773.5,289.4 777.0,289.4 778.5,289.1" stroke="#000" stroke-width="0.75" fill="none" shape-rendering="geometricPrecision"/>
<path d="M424.7,532.1 C423.0,532.4 417.5,534.6 414.3,533.6 C411.1,532.6 407.9,528.4 405.4,526.2 C402.9,524.0 400.4,521.3 399.4,520.3" stroke="#000" stroke-width="0.75" fill="none" shape-rendering="geometricPrecision"/>
<path d="M296.9,509.0 C298.6,508.6 304.1,506.8 307.3,506.9 C310.5,507.0 312.7,509.2 316.2,509.9 C319.7,510.6 324.9,513.0 328.1,511.3 C331.3,509.6 333.5,502.2 335.5,499.5 C337.5,496.8 339.2,495.8 340.0,495.0" stroke="#000" stroke-width="0.75" fill="none" shape-rendering="geometricPrecision"/>
<path d="M296.9,509.0 C297.6,509.5 298.4,511.1 301.0,512.0 C303.6,512.9 311.6,513.9 312.6,514.3 C313.7,514.7 307.5,511.8 307.3,514.3 C307.1,516.8 309.7,524.7 311.7,529.2 C313.7,533.7 316.0,538.6 319.2,541.1 C322.4,543.6 328.1,542.0 331.1,544.0 C334.1,546.0 336.3,550.5 337.0,553.0 C337.7,555.5 334.0,557.4 335.5,558.9 C337.0,560.4 344.2,561.4 345.9,561.9" stroke="#000" stroke-width="0.75" fill="none" shape-rendering="geometricPrecision"/>
<path d="M385.5,543.7 C384.7,545.3 382.5,550.2 380.8,553.2 C379.1,556.2 376.1,560.4 375.1,561.8" stroke="#000" stroke-width="0.75" fill="none" shape-rendering="geometricPrecision"/>
<ellipse cx="746.9" cy="462.6" rx="98.2" ry="101.5" fill="none" stroke="#000" stroke-width="0.8" stroke-dasharray="2 1.3"/>
<ellipse cx="795.1" cy="303.2" rx="44.4" ry="47.3" fill="none" stroke="#000" stroke-width="0.8" stroke-dasharray="2 1.3"/>
<path d="M772.0,262.0 C769.1,265.1 759.8,274.1 754.7,280.4 C749.6,286.7 747.0,292.0 741.2,300.0 C735.4,308.0 726.7,318.8 720.0,328.2 C713.3,337.6 707.5,347.1 701.2,356.5 C694.9,365.9 687.9,376.5 682.4,384.7 C676.9,392.9 672.1,400.0 668.2,405.9 C664.3,411.8 661.1,416.3 658.8,420.0 C656.4,423.7 654.9,426.8 654.1,428.2" stroke="#000" stroke-width="0.55" fill="none" shape-rendering="geometricPrecision"/>
<path d="M700.6,401.3 L700.6,495.0" stroke="#000" stroke-width="1.25" fill="none" shape-rendering="geometricPrecision"/>
<path d="M654.0,428.4 L700.6,401.3 M700.6,401.3 L811.5,466.8" stroke="#000" stroke-width="0.8" fill="none"/>
<path d="M664.0,515.6 L700.6,495.0 M700.6,495.0 L753.5,526.2 M753.5,526.2 L811.5,491.7" stroke="#000" stroke-width="0.8" fill="none"/>
<path d="M753.5,526.2 L704.4,554.7" stroke="#000" stroke-width="0.8" fill="none"/>
<ellipse cx="670.6" cy="449.0" rx="7.1" ry="5.6" fill="#f4f48a" stroke="#222200" stroke-width="0.9" shape-rendering="geometricPrecision"/>
<ellipse cx="726.5" cy="444.0" rx="7.1" ry="5.6" fill="#f4f48a" stroke="#222200" stroke-width="0.9" shape-rendering="geometricPrecision"/>
<path d="M676.6,443.4 C677.7,442.3 680.4,438.9 683.0,437.0 C685.6,435.1 689.1,433.9 692.0,432.0 C694.9,430.1 699.2,426.8 700.6,425.7" stroke="#000" stroke-width="0.75" fill="none" shape-rendering="geometricPrecision"/>
<path d="M700.6,425.7 C702.3,426.1 707.8,426.5 710.7,428.2 C713.6,429.9 716.1,433.9 718.2,435.8 C720.3,437.7 722.4,439.0 723.3,439.6" stroke="#000" stroke-width="0.75" fill="none" shape-rendering="geometricPrecision"/>
<path d="M733.4,445.9 C734.2,446.9 736.5,450.9 738.4,452.2 C740.3,453.4 743.7,453.2 744.7,453.4" stroke="#000" stroke-width="0.75" fill="none" shape-rendering="geometricPrecision"/>
<path d="M744.7,450.8 L744.7,464.2" stroke="#000" stroke-width="1" fill="none" shape-rendering="geometricPrecision"/>
<path d="M748.9,452.5 L748.9,466.5" stroke="#000" stroke-width="1" fill="none" shape-rendering="geometricPrecision"/>
<path d="M752.7,451.4 L752.7,465.8" stroke="#000" stroke-width="1" fill="none" shape-rendering="geometricPrecision"/>
<path d="M744.7,450.8 L747.4,448.6 L752.7,451.4 L748.9,452.5 L744.7,450.8" stroke="#000" stroke-width="0.9" fill="none" shape-rendering="geometricPrecision"/>
<path d="M744.7,464.2 L748.9,466.5 L752.7,465.8" stroke="#000" stroke-width="0.9" fill="none" shape-rendering="geometricPrecision"/>
<path d="M751.5,449.8 C752.1,448.8 754.3,445.8 755.0,443.8 C755.7,441.8 755.9,439.5 755.8,437.7 C755.7,435.9 754.7,434.4 754.2,433.2 C753.7,431.9 752.6,431.5 752.7,430.2 C752.8,428.9 754.2,426.8 755.0,425.6 C755.8,424.5 756.9,423.7 757.3,423.3" stroke="#000" stroke-width="0.75" fill="none" shape-rendering="geometricPrecision"/>
<path d="M747.8,466.5 L746.8,477.3" stroke="#000" stroke-width="0.75" fill="none" shape-rendering="geometricPrecision"/>
<rect x="740.8" y="477.8" width="13" height="21.8" fill="#fff" stroke="#000" stroke-width="1.4"/>
<rect x="742.6" y="479.6" width="9.4" height="7.2" fill="#fff" stroke="#000" stroke-width="0.9"/>
<rect x="744.3" y="484.6" width="6" height="1.6" fill="#000"/>
<rect x="742.2" y="489.4" width="10.2" height="8.6" fill="#000"/>
<rect x="743.2" y="490.6" width="1.6" height="1.4" fill="#fff"/>
<rect x="743.2" y="494.0" width="1.6" height="1.4" fill="#fff"/>
<rect x="746.4" y="490.6" width="1.6" height="1.4" fill="#fff"/>
<rect x="746.4" y="494.0" width="1.6" height="1.4" fill="#fff"/>
<rect x="749.6" y="490.6" width="1.6" height="1.4" fill="#fff"/>
<rect x="749.6" y="494.0" width="1.6" height="1.4" fill="#fff"/>
<text x="140.4" y="45.6" font-size="19.4" textLength="244.4" lengthAdjust="spacing" font-weight="bold">Off-grid Solar DC mini grid</text>
<text x="338.6" y="196.6" font-size="12.7" textLength="72.7" lengthAdjust="spacing">Remote data</text>
<text x="338.6" y="211.6" font-size="12.7" textLength="39.6" lengthAdjust="spacing">logging</text>
<text x="338.6" y="226.6" font-size="12.7" textLength="62.6" lengthAdjust="spacing">and control</text>
<text x="21.5" y="243.9" font-size="12.7" textLength="63.7" lengthAdjust="spacing">Panel bank</text>
<text x="87.7" y="455.8" font-size="12.7" textLength="71.6" lengthAdjust="spacing">Battery bank</text>
<text x="278.5" y="354.0" font-size="12.7" textLength="66.1" lengthAdjust="spacing">Charge and</text>
<text x="278.5" y="368.8" font-size="12.7" textLength="66.1" lengthAdjust="spacing">load control</text>
<text x="430.5" y="122.0" font-size="12.7">Inverter</text>
<text x="587.8" y="121.0" font-size="12.7">Water</text>
<text x="587.8" y="136.0" font-size="12.7">pumping</text>
<text x="691.0" y="136.0" font-size="12.7" textLength="99.6" lengthAdjust="spacing">Cluster of houses</text>
<text x="615.5" y="307.4" font-size="12.7" textLength="38.7" lengthAdjust="spacing">DC/DC</text>
<text x="615.5" y="322.6" font-size="12.7" textLength="52.6" lengthAdjust="spacing">converter</text>
<text x="456.8" y="355.0" font-size="12.7" textLength="75.3" lengthAdjust="spacing">Transmission</text>
<text x="459.7" y="541.0" font-size="12.7" textLength="38.7" lengthAdjust="spacing">DC/DC</text>
<text x="459.7" y="556.2" font-size="12.7" textLength="52.6" lengthAdjust="spacing">converter</text>
<text x="652.0" y="471.0" font-size="12.7" textLength="43.4" lengthAdjust="spacing">Lighting</text>
<text x="758.3" y="471.0" font-size="12.7" textLength="32.2" lengthAdjust="spacing">Meter</text>
<text x="701.3" y="479.0" font-size="12.7">Mobile</text>
<text x="700.4" y="493.8" font-size="12.7" textLength="38" lengthAdjust="spacing">charge</text>
</svg>
</body>
</html>
